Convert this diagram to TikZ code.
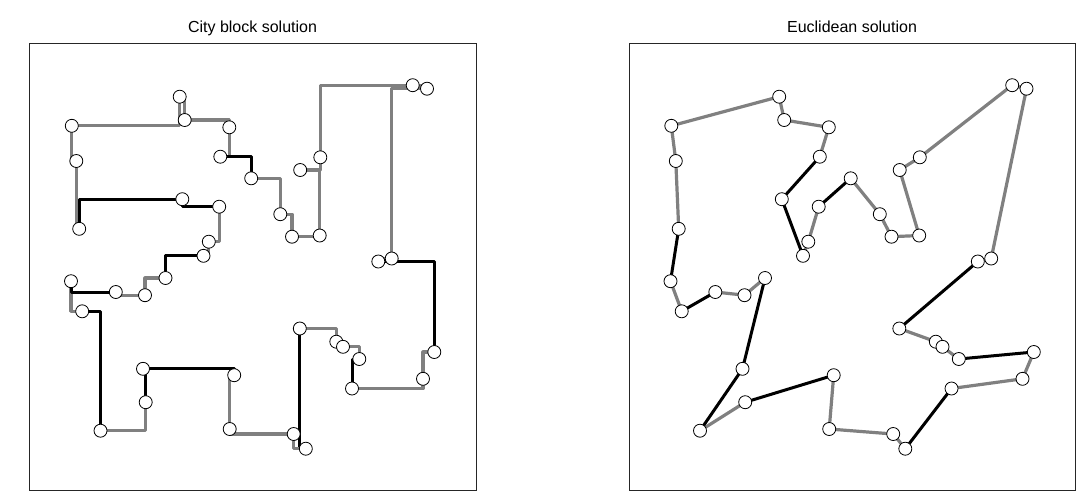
\documentclass[tikz,border=0pt]{standalone}
\usepackage{fontspec}
\setmainfont{Liberation Sans}
\usetikzlibrary{backgrounds}

\tikzset{
	town/.style={circle,draw=black,fill=white,line width=0.8pt,inner sep=0pt,minimum size=13pt},
	grayleg/.style={draw=gray,line width=3.2pt,line join=round},
	blackleg/.style={draw=black,line width=3pt,line join=round},
	panel/.style={draw=black!85,line width=1pt},
	heading/.style={font=\fontsize{16}{18}\selectfont,anchor=base}
}
% town positions (left panel, in pixels)
\newcommand\townlist{p1/179.7/96.7, p2/184.7/120, p3/71.8/125.8, p4/229.3/127.3, p5/76.3/161,
	p6/220.3/156.7, p7/251.2/178.3, p8/182.3/199.2, p9/219.2/206.7, p10/79.2/228.8,
	p11/208.8/241.7, p12/203.5/255.8, p13/165.5/278, p14/71/281.2, p15/115.8/292,
	p16/145/295.2, p17/82.2/311.3, p18/143/368.8, p19/234.2/375.2, p20/145.7/402.2,
	p21/100.5/430.7, p22/229.7/429, p23/412.7/85.2, p24/427/88.7, p25/320.3/157.3,
	p26/300.2/170, p27/280.3/214.2, p28/292/236.7, p29/319.7/235.5, p30/378.3/261.5,
	p31/391.7/258.5, p32/299.8/328.5, p33/336.3/341.7, p34/343/346.8, p35/359.3/359,
	p36/434.3/352, p37/352/388.5, p38/423/378.8, p39/293.7/434, p40/305.8/448.7}

\begin{document}
\begin{tikzpicture}[x=1pt,y=-1pt]
	\useasboundingbox (0,0) rectangle (1086,496);
	% city block
	\begin{scope}[name prefix=cb-]
		\draw[panel] (29.5,43.5) rectangle (476,490);
		\node[heading] (title) at (252.5,32) {City block solution};
		\foreach \n/\x/\y in \townlist
			\node[town] (\n) at (\x,\y) {};
		\begin{scope}[on background layer]
			\draw[grayleg] (p3.center) -| (p1.center) -| (p2.center) -| (p4.center) |- (p6.center);
			\draw[blackleg] (p6.center) -| (p7.center);
			\draw[grayleg] (p7.center) -| (p27.center) -| (p28.center) -| (p29.center) |- (p26.center)
				-| (p25.center) |- (p23.center) -| (p24.center) -| (p31.center) -| (p30.center);
			\draw[blackleg] (p30.center) -| (p36.center);
			\draw[grayleg] (p36.center) -| (p38.center) |- (p37.center);
			\draw[blackleg] (p37.center) |- (p35.center);
			\draw[grayleg] (p35.center) |- (p34.center) -| (p33.center) |- (p32.center);
			\draw[blackleg] (p32.center) |- (p40.center);
			\draw[grayleg] (p40.center) -| (p39.center) -| (p22.center) |- (p19.center);
			\draw[blackleg] (p19.center) |- (p18.center) -| (p20.center);
			\draw[grayleg] (p20.center) |- (p21.center);
			\draw[blackleg] (p21.center) |- (p17.center);
			\draw[grayleg] (p17.center) -| (p14.center);
			\draw[blackleg] (p14.center) |- (p15.center);
			\draw[grayleg] (p15.center) |- (p16.center) |- (p13.center);
			\draw[blackleg] (p13.center) |- (p12.center);
			\draw[grayleg] (p12.center) -| (p11.center) -| (p9.center);
			\draw[blackleg] (p9.center) -| (p8.center) -| (p10.center);
			\draw[grayleg] (p10.center) -| (p5.center) -| (p3.center);
		\end{scope}
	\end{scope}
	% euclidean
	\begin{scope}[shift={(599.5,0)},name prefix=eu-]
		\draw[panel] (29.5,43.5) rectangle (475.5,490);
		\node[heading] (title) at (252.5,32) {Euclidean solution};
		\foreach \n/\x/\y in \townlist
			\node[town] (\n) at (\x,\y) {};
		\begin{scope}[on background layer]
			\draw[grayleg] (p3.center) -- (p1.center) -- (p2.center) -- (p4.center) -- (p6.center);
			\draw[blackleg] (p6.center) -- (p8.center) -- (p12.center);
			\draw[grayleg] (p12.center) -- (p11.center) -- (p9.center);
			\draw[blackleg] (p9.center) -- (p7.center);
			\draw[grayleg] (p7.center) -- (p27.center) -- (p28.center) -- (p29.center) -- (p26.center)
				-- (p25.center) -- (p23.center) -- (p24.center) -- (p31.center) -- (p30.center);
			\draw[blackleg] (p30.center) -- (p32.center);
			\draw[grayleg] (p32.center) -- (p33.center) -- (p34.center) -- (p35.center);
			\draw[blackleg] (p35.center) -- (p36.center);
			\draw[grayleg] (p36.center) -- (p38.center) -- (p37.center);
			\draw[blackleg] (p37.center) -- (p40.center);
			\draw[grayleg] (p40.center) -- (p39.center) -- (p22.center) -- (p19.center);
			\draw[blackleg] (p19.center) -- (p20.center);
			\draw[grayleg] (p20.center) -- (p21.center);
			\draw[blackleg] (p21.center) -- (p18.center) -- (p13.center);
			\draw[grayleg] (p13.center) -- (p16.center) -- (p15.center);
			\draw[blackleg] (p15.center) -- (p17.center);
			\draw[grayleg] (p17.center) -- (p14.center);
			\draw[blackleg] (p14.center) -- (p10.center);
			\draw[grayleg] (p10.center) -- (p5.center) -- (p3.center);
		\end{scope}
	\end{scope}
\end{tikzpicture}
\end{document}
